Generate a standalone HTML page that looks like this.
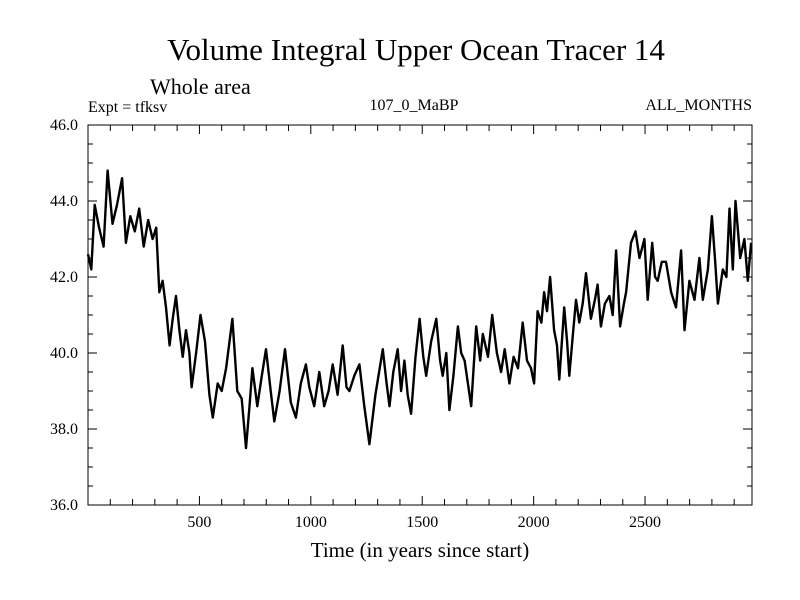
<!DOCTYPE html>
<html><head><meta charset="utf-8"><style>
html,body{margin:0;padding:0;background:#fff;}
svg{display:block;font-family:"Liberation Serif",serif;}
</style></head><body>
<svg id="chart" width="800" height="600" viewBox="0 0 800 600">
<text x="416" y="60" font-size="31" text-anchor="middle">Volume Integral Upper Ocean Tracer 14</text>
<text x="150" y="94" font-size="22">Whole area</text>
<text x="88" y="112" font-size="16">Expt = tfksv</text>
<text x="414" y="110" font-size="16" text-anchor="middle">107_0_MaBP</text>
<text x="752" y="110" font-size="16" text-anchor="end">ALL_MONTHS</text>
<g id="axes"></g>
<g id="plot"></g>
<rect x="88" y="125" width="664" height="380" fill="none" stroke="#000" stroke-width="1"/>
<text x="420" y="557" font-size="21" text-anchor="middle">Time (in years since start)</text>
</svg>
<script>
const years=[0,15,30,50,70,88,110,130,153,170,190,210,230,250,270,290,306,320,335,350,366,380,395,410,425,440,455,465,485,505,525,545,560,582,600,620,648,670,690,709,725,738,760,780,799,820,836,860,884,910,933,955,978,993,1015,1038,1060,1080,1098,1120,1143,1160,1173,1195,1218,1240,1263,1290,1323,1340,1353,1370,1390,1405,1420,1435,1450,1470,1488,1505,1518,1540,1563,1580,1592,1608,1622,1640,1660,1675,1690,1705,1720,1742,1760,1772,1795,1814,1835,1854,1870,1891,1910,1930,1951,1970,1988,2002,2018,2035,2047,2060,2074,2092,2105,2115,2137,2150,2160,2175,2190,2205,2220,2235,2257,2275,2287,2302,2320,2340,2355,2370,2388,2405,2415,2437,2457,2475,2497,2512,2532,2545,2557,2575,2594,2617,2639,2662,2677,2699,2722,2744,2759,2782,2800,2815,2827,2849,2865,2879,2894,2906,2927,2946,2961,2976];
const values=[42.6,42.2,43.9,43.3,42.8,44.8,43.4,43.9,44.6,42.9,43.6,43.2,43.8,42.8,43.5,43.0,43.3,41.6,41.9,41.2,40.2,40.9,41.5,40.6,39.9,40.6,40.0,39.1,40.0,41.0,40.3,38.9,38.3,39.2,39.0,39.6,40.9,39.0,38.8,37.5,38.6,39.6,38.6,39.4,40.1,39.0,38.2,39.0,40.1,38.7,38.3,39.2,39.7,39.1,38.6,39.5,38.6,39.0,39.7,38.9,40.2,39.1,39.0,39.4,39.7,38.6,37.6,38.9,40.1,39.2,38.6,39.5,40.1,39.0,39.8,38.9,38.4,39.9,40.9,39.9,39.4,40.3,40.9,39.8,39.4,40.0,38.5,39.4,40.7,40.0,39.8,39.2,38.6,40.7,39.8,40.5,39.9,41.0,40.0,39.5,40.1,39.2,39.9,39.6,40.8,39.8,39.6,39.2,41.1,40.8,41.6,41.1,42.0,40.6,40.2,39.3,41.2,40.3,39.4,40.4,41.4,40.8,41.3,42.1,40.9,41.4,41.8,40.7,41.3,41.5,41.0,42.7,40.7,41.3,41.6,42.9,43.2,42.5,43.0,41.4,42.9,42.0,41.9,42.4,42.4,41.6,41.2,42.7,40.6,41.9,41.4,42.5,41.4,42.2,43.6,42.4,41.3,42.2,42.0,43.8,42.2,44.0,42.5,43.0,41.9,42.9];
const xTickVals=[500,1000,1500,2000,2500];
const yTickVals=[36,38,40,42,44,46];
const yTickLabels=["36.0","38.0","40.0","42.0","44.0","46.0"];
const ns="http://www.w3.org/2000/svg";
const X0=88,X1=752,Y0=505,Y1=125,XMIN=0,XMAX=2980,YMIN=36,YMAX=46;
function sx(v){return X0+(v-XMIN)/(XMAX-XMIN)*(X1-X0);}
function sy(v){return Y0-(v-YMIN)/(YMAX-YMIN)*(Y0-Y1);}
const axes=document.getElementById('axes');
function line(x1,y1,x2,y2,name){const l=document.createElementNS(ns,'line');
l.setAttribute('x1',x1);l.setAttribute('y1',y1);l.setAttribute('x2',x2);l.setAttribute('y2',y2);
l.setAttribute('stroke','#000');l.setAttribute('stroke-width','1');


axes.appendChild(l);}
for(let v=100;v<XMAX;v+=100){const x=sx(v);const len=(v%500===0)?9:6;
line(x,Y0,x,Y0-len,'x-tick');line(x,Y1,x,Y1+len,'x-tick-top');}
for(let v=36.5;v<46;v+=0.5){const y=sy(v);const len=(v%2===0)?9:5;
line(X0,y,X0+len,y,'y-tick');line(X1,y,X1-len,y,'y-tick-right');}
xTickVals.forEach(v=>{const t=document.createElementNS(ns,'text');
t.setAttribute('x',sx(v));t.setAttribute('y',Y0+22);t.setAttribute('font-size','16');t.setAttribute('text-anchor','middle');
t.textContent=String(v);


axes.appendChild(t);});
yTickVals.forEach((v,i)=>{const t=document.createElementNS(ns,'text');
t.setAttribute('x',X0-10);t.setAttribute('y',sy(v)+5);t.setAttribute('font-size','16');t.setAttribute('text-anchor','end');
t.textContent=yTickLabels[i];


axes.appendChild(t);});
const p=document.createElementNS(ns,'path');
p.setAttribute('d',years.map((y,i)=>(i?'L':'M')+sx(y).toFixed(1)+','+sy(values[i]).toFixed(1)).join(''));
p.setAttribute('fill','none');p.setAttribute('stroke','#000');p.setAttribute('stroke-width','2.4');p.setAttribute('stroke-linejoin','round');


document.getElementById('plot').appendChild(p);
</script>
</body></html>
